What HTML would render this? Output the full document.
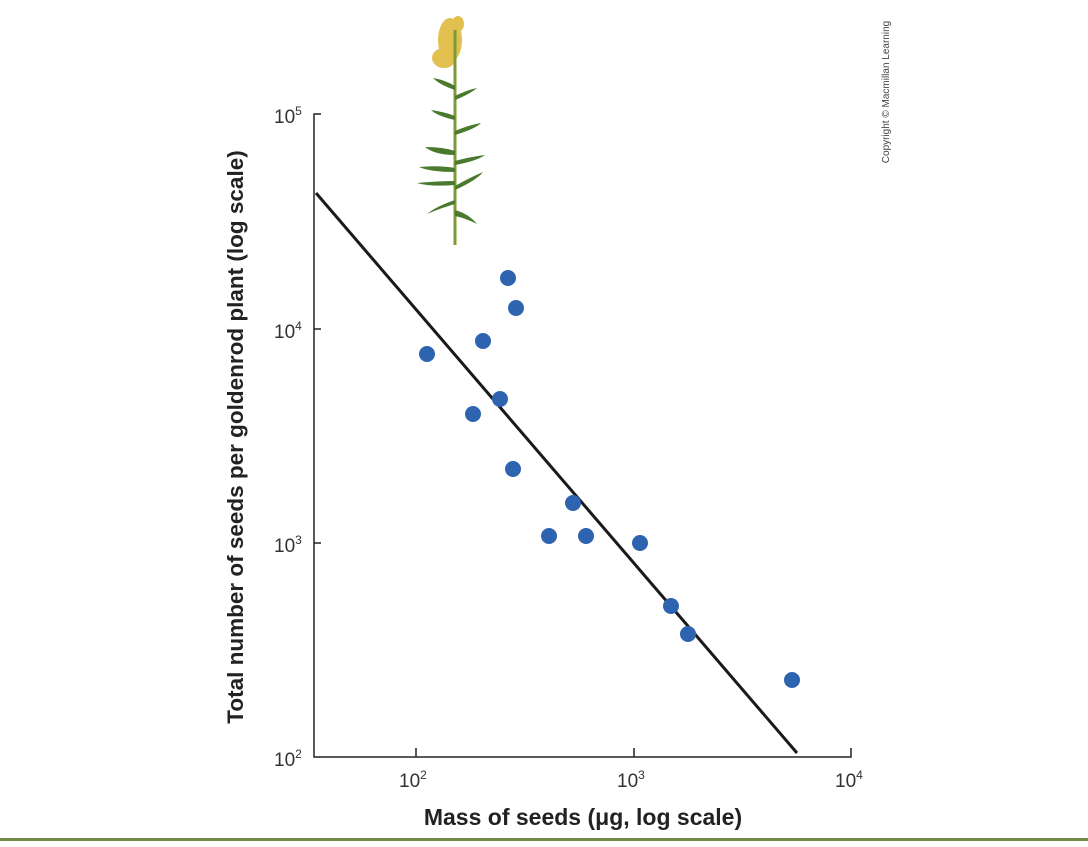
<!DOCTYPE html>
<html><head><style>
body{margin:0;background:#fff;width:1088px;height:842px;overflow:hidden;font-family:"Liberation Sans",sans-serif}
</style></head><body>
<svg width="1088" height="842" viewBox="0 0 1088 842" xmlns="http://www.w3.org/2000/svg">
<rect x="0" y="838" width="1088" height="3" fill="#6f8b45"/>
<!-- plant -->
<g>
<g fill="#e2c050">
<ellipse cx="450" cy="40" rx="12" ry="22"/>
<ellipse cx="444" cy="58" rx="12" ry="10"/>
<ellipse cx="458" cy="24" rx="6" ry="8"/>
</g>
<path d="M455 30 L455 245" stroke="#7c9a3a" stroke-width="3" fill="none"/>
<g fill="#4a7a2e">
<path d="M455 90 q-15 -5 -22 -12 q12 2 22 8z"/>
<path d="M455 100 q15 -6 22 -12 q-10 2 -22 8z"/>
<path d="M455 120 q-18 -4 -24 -10 q14 2 24 6z"/>
<path d="M455 135 q20 -6 26 -12 q-12 2 -26 8z"/>
<path d="M455 155 q-20 0 -30 -8 q18 0 30 4z"/>
<path d="M455 165 q22 -4 30 -10 q-16 2 -30 6z"/>
<path d="M455 172 q-25 0 -36 -5 q20 -2 36 1z"/>
<path d="M455 185 q-25 2 -38 -2 q22 -2 38 -2z"/>
<path d="M455 190 q22 -10 28 -18 q-14 6 -28 14z"/>
<path d="M455 200 q-18 6 -28 14 q14 -6 28 -10z"/>
<path d="M455 210 q14 4 22 14 q-12 -6 -22 -8z"/>
</g>
</g>
<!-- axes -->
<g stroke="#222" stroke-width="1.5" fill="none">
<path d="M321 114 L314 114 L314 757 L851 757 L851 748"/>
<path d="M314 329 L321 329 M314 543 L321 543 M416 757 L416 748 M634 757 L634 748"/>
</g>
<g font-size="19" fill="#333">
<text x="274" y="123">10<tspan font-size="12" dy="-8">5</tspan></text>
<text x="274" y="338">10<tspan font-size="12" dy="-8">4</tspan></text>
<text x="274" y="552">10<tspan font-size="12" dy="-8">3</tspan></text>
<text x="274" y="766">10<tspan font-size="12" dy="-8">2</tspan></text>
<text x="399" y="787">10<tspan font-size="12" dy="-8">2</tspan></text>
<text x="617" y="787">10<tspan font-size="12" dy="-8">3</tspan></text>
<text x="835" y="787">10<tspan font-size="12" dy="-8">4</tspan></text>
</g>
<text x="583" y="825" font-size="23" font-weight="bold" fill="#222" text-anchor="middle">Mass of seeds (μg, log scale)</text>
<text transform="translate(243 437) rotate(-90)" font-size="22.5" font-weight="bold" fill="#222" text-anchor="middle">Total number of seeds per goldenrod plant (log scale)</text>
<text transform="translate(889 92) rotate(-90)" font-size="10" fill="#444" text-anchor="middle">Copyright © Macmillan Learning</text>
<line x1="316" y1="193" x2="797" y2="753" stroke="#1a1a1a" stroke-width="3"/>
<g fill="#2e63b0">
<circle cx="508" cy="278" r="8"/><circle cx="516" cy="308" r="8"/>
<circle cx="483" cy="341" r="8"/><circle cx="427" cy="354" r="8"/>
<circle cx="500" cy="399" r="8"/><circle cx="473" cy="414" r="8"/>
<circle cx="513" cy="469" r="8"/><circle cx="573" cy="503" r="8"/>
<circle cx="549" cy="536" r="8"/><circle cx="586" cy="536" r="8"/>
<circle cx="640" cy="543" r="8"/><circle cx="671" cy="606" r="8"/>
<circle cx="688" cy="634" r="8"/><circle cx="792" cy="680" r="8"/>
</g>
</svg>
</body></html>
